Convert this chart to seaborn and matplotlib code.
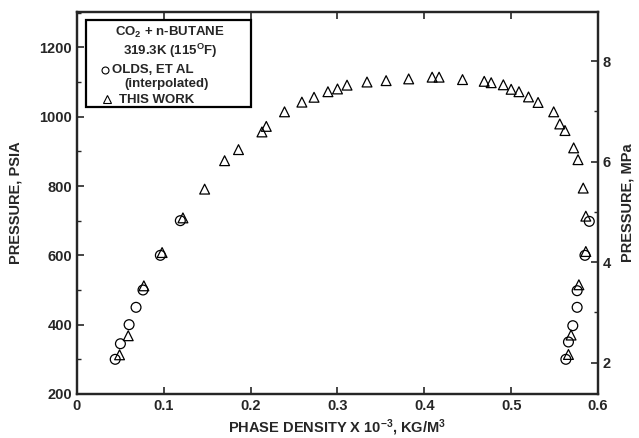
import numpy as np
import pandas as pd
import matplotlib.pyplot as plt
import seaborn as sns
from matplotlib.patches import Rectangle
from matplotlib.ticker import MultipleLocator

# Olds et al (interpolated) - circles
olds_density = [0.044, 0.050, 0.060, 0.068, 0.076, 0.096, 0.119,
                0.563, 0.566, 0.571, 0.576, 0.576, 0.585, 0.590]
olds_pressure = [300, 345, 400, 450, 500, 600, 700,
                 300, 350, 397, 450, 498, 600, 698]

# this work - triangles
work_density = [0.049, 0.059, 0.077, 0.098, 0.122, 0.147, 0.170, 0.186, 0.213, 0.218,
                0.239, 0.259, 0.273, 0.289, 0.300, 0.311, 0.334, 0.356, 0.382, 0.409,
                0.417, 0.444, 0.469, 0.477, 0.491, 0.500, 0.509, 0.520, 0.531, 0.549,
                0.556, 0.562, 0.572, 0.577, 0.583, 0.586, 0.586, 0.578, 0.569, 0.566]
work_pressure = [313, 368, 512, 608, 708, 791, 873, 905, 956, 972,
                 1014, 1042, 1056, 1072, 1080, 1091, 1100, 1104, 1109, 1114,
                 1114, 1107, 1102, 1098, 1092, 1079, 1072, 1057, 1041, 1014,
                 979, 960, 910, 876, 794, 713, 611, 515, 370, 314]

PSI_PER_MPA = 145.038

olds = pd.DataFrame({'density': olds_density, 'pressure': olds_pressure})
work = pd.DataFrame({'density': work_density, 'pressure': work_pressure})

sns.set_style('ticks')
plt.rcParams['font.family'] = ['Liberation Sans', 'DejaVu Sans']
plt.rcParams['font.weight'] = 'bold'
plt.rcParams['axes.labelweight'] = 'bold'
plt.rcParams['mathtext.fontset'] = 'custom'
plt.rcParams['mathtext.rm'] = 'Liberation Sans:bold'
plt.rcParams['mathtext.it'] = 'Liberation Sans:bold'
plt.rcParams['mathtext.bf'] = 'Liberation Sans:bold'

fig = plt.figure(figsize=(6.39, 4.38), dpi=100)
ax = fig.add_axes([0.1205, 0.1005, 0.8153, 0.8721])

sns.scatterplot(data=olds, x='density', y='pressure', marker='o', s=50,
                facecolor='none', edgecolor='black', linewidth=0.9, ax=ax)
sns.scatterplot(data=work, x='density', y='pressure', marker='^', s=50,
                facecolor='none', edgecolor='black', linewidth=0.9, ax=ax)

ax.set_xlim(0, 0.6)
ax.set_ylim(200, 1302)
ax.yaxis.set_major_locator(MultipleLocator(200))
ax.yaxis.set_minor_locator(MultipleLocator(100))
ax.set_xticks([0, 0.1, 0.2, 0.3, 0.4, 0.5, 0.6])
ax.set_xticklabels(['0', '0.1', '0.2', '0.3', '0.4', '0.5', '0.6'])
ax.tick_params(axis='both', which='major', direction='in', length=5, width=1.2,
               labelsize=10.5, top=True)
ax.tick_params(axis='y', which='minor', direction='in', length=3, width=1)
for s in ax.spines.values():
    s.set_linewidth(1.6)
ax.set_xlabel('PHASE DENSITY X 10$^{-3}$, KG/M$^{3}$', fontsize=10.5, labelpad=3)
ax.set_ylabel('PRESSURE, PSIA', fontsize=10.5, labelpad=12)

ax2 = ax.twinx()
ax2.set_ylim(200 / PSI_PER_MPA, 1302 / PSI_PER_MPA)
ax2.yaxis.set_major_locator(MultipleLocator(2))
ax2.yaxis.set_minor_locator(MultipleLocator(1))
ax2.tick_params(axis='y', which='major', direction='in', length=5, width=1.2, labelsize=10.5)
ax2.tick_params(axis='y', which='minor', direction='in', length=3, width=1)
for s in ax2.spines.values():
    s.set_linewidth(1.6)
ax2.set_ylabel('PRESSURE, MPa', fontsize=10.5, labelpad=7)

# legend box drawn by hand
ax.add_patch(Rectangle((0.017, 0.751), 0.317, 0.228, transform=ax.transAxes,
                       facecolor='white', edgecolor='black', linewidth=1.6, zorder=5))
tk = dict(transform=ax.transAxes, fontsize=9.5, zorder=6, va='center')
ax.text(0.178, 0.946, 'CO$_2$ + n-BUTANE', ha='center', **tk)
ax.text(0.178, 0.898, '319.3K (115$^{O}$F)', ha='center', **tk)
ax.text(0.068, 0.849, 'OLDS, ET AL', ha='left', **tk)
ax.text(0.091, 0.812, '(interpolated)', ha='left', **tk)
ax.text(0.080, 0.770, 'THIS WORK', ha='left', **tk)
ax.plot([0.053], [0.849], marker='o', ms=5, mfc='none', mec='black', mew=0.8,
        transform=ax.transAxes, zorder=6, clip_on=False)
ax.plot([0.058], [0.772], marker='^', ms=6, mfc='none', mec='black', mew=0.8,
        transform=ax.transAxes, zorder=6, clip_on=False)

fig.savefig('out.png', dpi=100)
